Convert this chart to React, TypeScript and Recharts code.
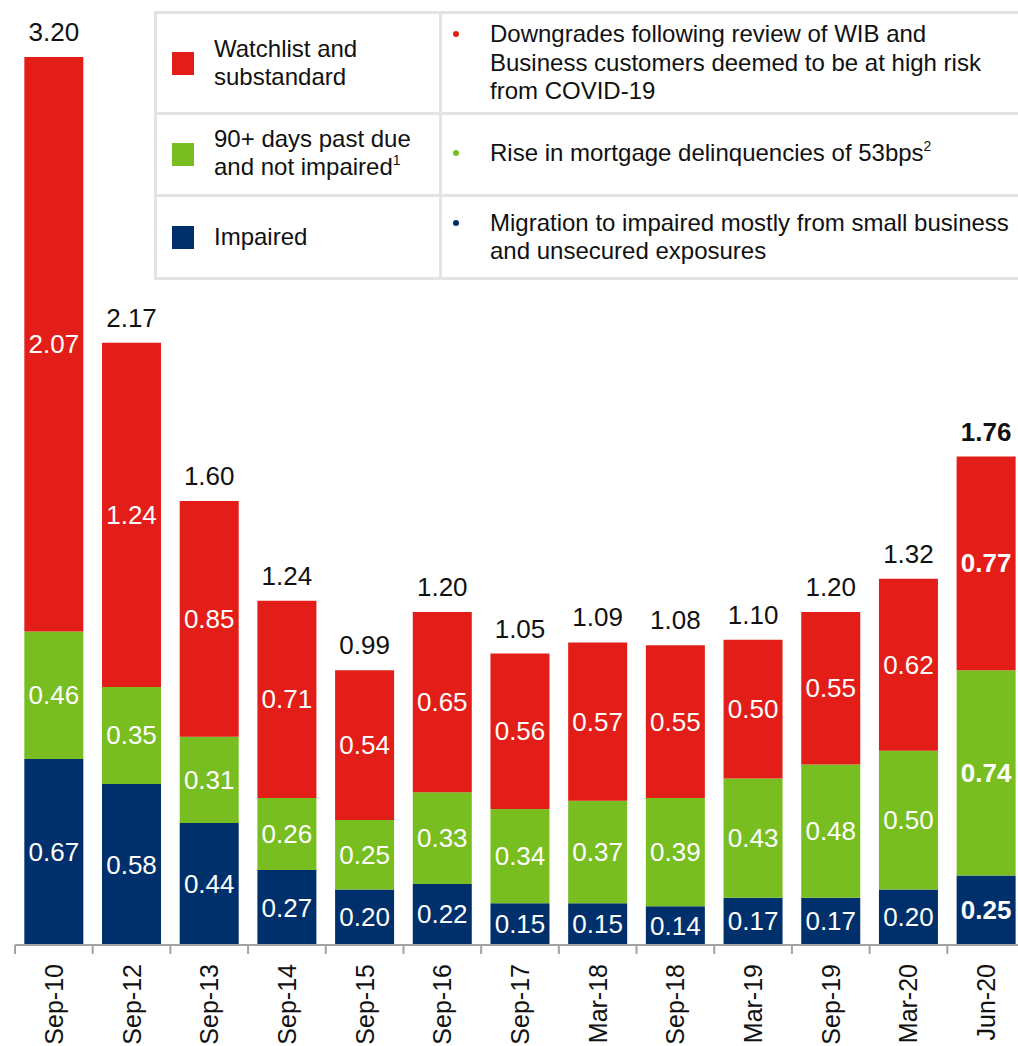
import { BarChart, Bar, XAxis, YAxis, LabelList } from "recharts";

const periods = ["Sep-10", "Sep-12", "Sep-13", "Sep-14", "Sep-15", "Sep-16", "Sep-17", "Mar-18", "Sep-18", "Mar-19", "Sep-19", "Mar-20", "Jun-20"];
const impaired = [0.67, 0.58, 0.44, 0.27, 0.2, 0.22, 0.15, 0.15, 0.14, 0.17, 0.17, 0.2, 0.25];
const pastDue = [0.46, 0.35, 0.31, 0.26, 0.25, 0.33, 0.34, 0.37, 0.39, 0.43, 0.48, 0.5, 0.74];
const watchlist = [2.07, 1.24, 0.85, 0.71, 0.54, 0.65, 0.56, 0.57, 0.55, 0.5, 0.55, 0.62, 0.77];
const totals = [3.2, 2.17, 1.6, 1.24, 0.99, 1.2, 1.05, 1.09, 1.08, 1.1, 1.2, 1.32, 1.76];

const legendLabels = [["Watchlist and", "substandard"], ["90+ days past due", "and not impaired"], ["Impaired"]];
const legendNotes = ["", "1", ""];
const commentary = [
  ["Downgrades following review of WIB and", "Business customers deemed to be at high risk", "from COVID-19"],
  ["Rise in mortgage delinquencies of 53bps"],
  ["Migration to impaired mostly from small business", "and unsecured exposures"],
];
const commentaryNotes = ["", "2", ""];

const RED = "#e31e18";
const GREEN = "#78be21";
const NAVY = "#00306b";
const seriesColors = [RED, GREEN, NAVY];
const GRID = "#e3e3e3";
const AXIS_GREY = "#a3a3a3";
const FONT = '"Liberation Sans", Arial, sans-serif';

const CHART_W = 1040;
const CHART_H = 1046;
const AXIS_H = 101;
const SIDE = 15;
const BAND = (CHART_W - 2 * SIDE) / periods.length;
const BASE_Y = CHART_H - AXIS_H;

const data = periods.map((period, i) => ({
  period,
  impaired: impaired[i],
  pastDue: pastDue[i],
  watchlist: watchlist[i],
  total: totals[i],
}));

const isLast = (i: number) => i === periods.length - 1;

const AxisTick = (props: any) => {
  const { x, payload } = props;
  const left = x - BAND / 2;
  return (
    <g>
      <line x1={left} x2={left} y1={BASE_Y} y2={BASE_Y + 9} stroke={AXIS_GREY} strokeWidth={2} />
      <text
        transform={`translate(${x},${BASE_Y + 19}) rotate(-90)`}
        textAnchor="end"
        dominantBaseline="central"
        fontSize={25}
        fontFamily={FONT}
        fill="#111"
      >
        {payload.value}
      </text>
    </g>
  );
};

const segmentLabel = (props: any) => {
  const { x, y, width, height, value, index } = props;
  return (
    <text
      x={x + width / 2}
      y={y + height / 2}
      textAnchor="middle"
      dominantBaseline="central"
      fill="#fff"
      fontSize={26}
      fontFamily={FONT}
      fontWeight={isLast(index) ? 700 : 400}
    >
      {Number(value).toFixed(2)}
    </text>
  );
};

const totalLabel = (props: any) => {
  const { x, y, width, value, index } = props;
  return (
    <text
      x={x + width / 2}
      y={y - 25}
      textAnchor="middle"
      dominantBaseline="central"
      fill="#111"
      fontSize={26}
      fontFamily={FONT}
      fontWeight={isLast(index) ? 700 : 400}
    >
      {Number(value).toFixed(2)}
    </text>
  );
};

const rowHeights = [101, 82, 83];

function LegendTable() {
  return (
    <div
      style={{
        position: "absolute",
        left: 154,
        top: 11,
        width: 900,
        borderLeft: `3px solid ${GRID}`,
        borderBottom: `3px solid ${GRID}`,
        fontFamily: FONT,
        fontSize: 24,
        color: "#111",
        background: "#fff",
      }}
    >
      {legendLabels.map((lines, i) => (
        <div
          key={i}
          style={{ display: "flex", height: rowHeights[i], borderTop: `3px solid ${GRID}`, boxSizing: "border-box" }}
        >
          <div
            style={{
              width: 285,
              borderRight: `3px solid ${GRID}`,
              boxSizing: "border-box",
              display: "flex",
              alignItems: "center",
            }}
          >
            <div style={{ marginLeft: 15, width: 22, height: 23, background: seriesColors[i], flexShrink: 0 }} />
            <div style={{ marginLeft: 20, lineHeight: "28px" }}>
              {lines.map((line, j) => (
                <div key={j} style={{ whiteSpace: "nowrap" }}>
                  {line}
                  {j === lines.length - 1 && legendNotes[i] && (
                    <span style={{ fontSize: 14, position: "relative", top: -10 }}>{legendNotes[i]}</span>
                  )}
                </div>
              ))}
            </div>
          </div>
          <div style={{ flex: 1, display: "flex", alignItems: "center" }}>
            <div style={{ display: "flex", alignItems: "flex-start" }}>
              <div
                style={{
                  marginLeft: 11,
                  marginTop: 11,
                  width: 6,
                  height: 6,
                  borderRadius: 3,
                  background: seriesColors[i],
                  flexShrink: 0,
                }}
              />
              <div style={{ marginLeft: 31, lineHeight: "28.5px" }}>
                {commentary[i].map((line, j) => (
                  <div key={j} style={{ whiteSpace: "nowrap" }}>
                    {line}
                    {j === commentary[i].length - 1 && commentaryNotes[i] && (
                      <span style={{ fontSize: 14, position: "relative", top: -10 }}>{commentaryNotes[i]}</span>
                    )}
                  </div>
                ))}
              </div>
            </div>
          </div>
        </div>
      ))}
    </div>
  );
}

export default function App() {
  return (
    <div style={{ position: "relative", width: 1018, height: 1046, overflow: "hidden", background: "#fff" }}>
      <style>{"body{margin:0;overflow:hidden}"}</style>
      <BarChart
        width={CHART_W}
        height={CHART_H}
        data={data}
        margin={{ top: 0, right: SIDE, left: SIDE, bottom: 0 }}
        barCategoryGap="12%"
      >
        <YAxis hide domain={[0, 3.405]} />
        <XAxis
          dataKey="period"
          height={AXIS_H}
          interval={0}
          axisLine={{ stroke: AXIS_GREY, strokeWidth: 2 }}
          tickLine={false}
          tick={<AxisTick />}
        />
        <Bar dataKey="impaired" stackId="a" fill={NAVY} isAnimationActive={false}>
          <LabelList dataKey="impaired" content={segmentLabel} />
        </Bar>
        <Bar dataKey="pastDue" stackId="a" fill={GREEN} isAnimationActive={false}>
          <LabelList dataKey="pastDue" content={segmentLabel} />
        </Bar>
        <Bar dataKey="watchlist" stackId="a" fill={RED} isAnimationActive={false}>
          <LabelList dataKey="watchlist" content={segmentLabel} />
          <LabelList dataKey="total" content={totalLabel} />
        </Bar>
      </BarChart>
      <LegendTable />
    </div>
  );
}
